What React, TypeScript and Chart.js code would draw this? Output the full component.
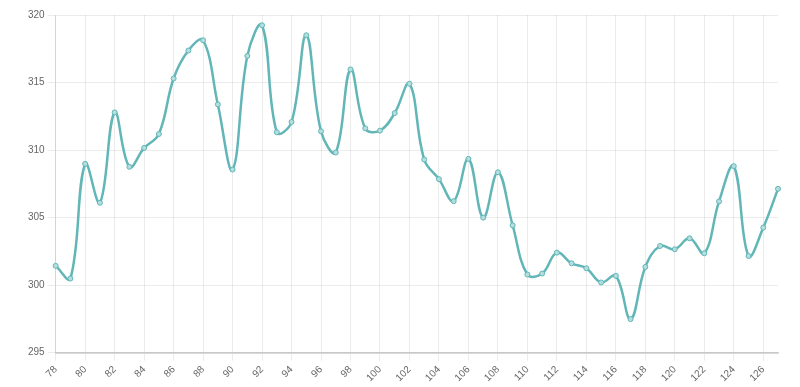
import React, { useEffect, useRef } from "react";
import { Chart, registerables } from "chart.js";

Chart.register(...registerables);

const labels: string[] = [];
for (let v = 78; v <= 127; v++) labels.push(String(v));

const values: number[] = [
  301.43, 300.49, 308.98, 306.1, 312.79, 308.76, 310.16, 311.19, 315.3, 317.37,
  318.13, 313.38, 308.56, 316.97, 319.24, 311.32, 312.08, 318.5, 311.39, 309.82,
  315.97, 311.61, 311.44, 312.74, 314.91, 309.3, 307.85, 306.22, 309.35, 305.0,
  308.36, 304.43, 300.79, 300.86, 302.41, 301.62, 301.25, 300.2, 300.69, 297.49,
  301.35, 302.9, 302.66, 303.47, 302.36, 306.2, 308.81, 302.16, 304.26, 307.13,
];

const yMin = 295;
const yMax = 320;

export default function App() {
  const ref = useRef<HTMLCanvasElement | null>(null);
  useEffect(() => {
    if (!ref.current) return;
    const chart = new Chart(ref.current, {
      type: "line",
      data: {
        labels,
        datasets: [
          {
            data: values,
            borderColor: "rgb(98,182,183)",
            backgroundColor: "rgba(98,182,183,0.4)",
            pointBackgroundColor: "rgba(180,222,222,1)",
            pointBorderColor: "rgb(98,182,183)",
            pointRadius: 2.5,
            pointBorderWidth: 1,
            borderWidth: 2.5,
            tension: 0.4,
            fill: false,
          },
        ],
      },
      options: {
        animation: false,
        responsive: true,
        maintainAspectRatio: false,
        layout: { padding: { left: 25, right: 22, top: 15, bottom: 0 } },
        plugins: { legend: { display: false }, tooltip: { enabled: false } },
        scales: {
          x: {
            grid: { color: "rgba(0,0,0,0.08)", tickLength: 8 },
            border: { color: "rgba(0,0,0,0.15)", width: 2 },
            ticks: {
              color: "#666",
              font: { family: "Helvetica, Arial, 'Liberation Sans', sans-serif", size: 10 },
              maxRotation: 45,
              minRotation: 45,
              autoSkip: true,
              autoSkipPadding: 4,
            },
          },
          y: {
            min: yMin,
            max: yMax,
            grid: { color: "rgba(0,0,0,0.08)", tickLength: 8 },
            border: { color: "rgba(0,0,0,0.1)" },
            ticks: {
              stepSize: 5,
              color: "#666",
              font: { family: "Helvetica, Arial, 'Liberation Sans', sans-serif", size: 10 },
            },
          },
        },
      },
    });
    return () => chart.destroy();
  }, []);
  return (
    <div style={{ width: 800, height: 387, position: "absolute", left: 0, top: 0 }}>
      <canvas ref={ref} />
    </div>
  );
}
